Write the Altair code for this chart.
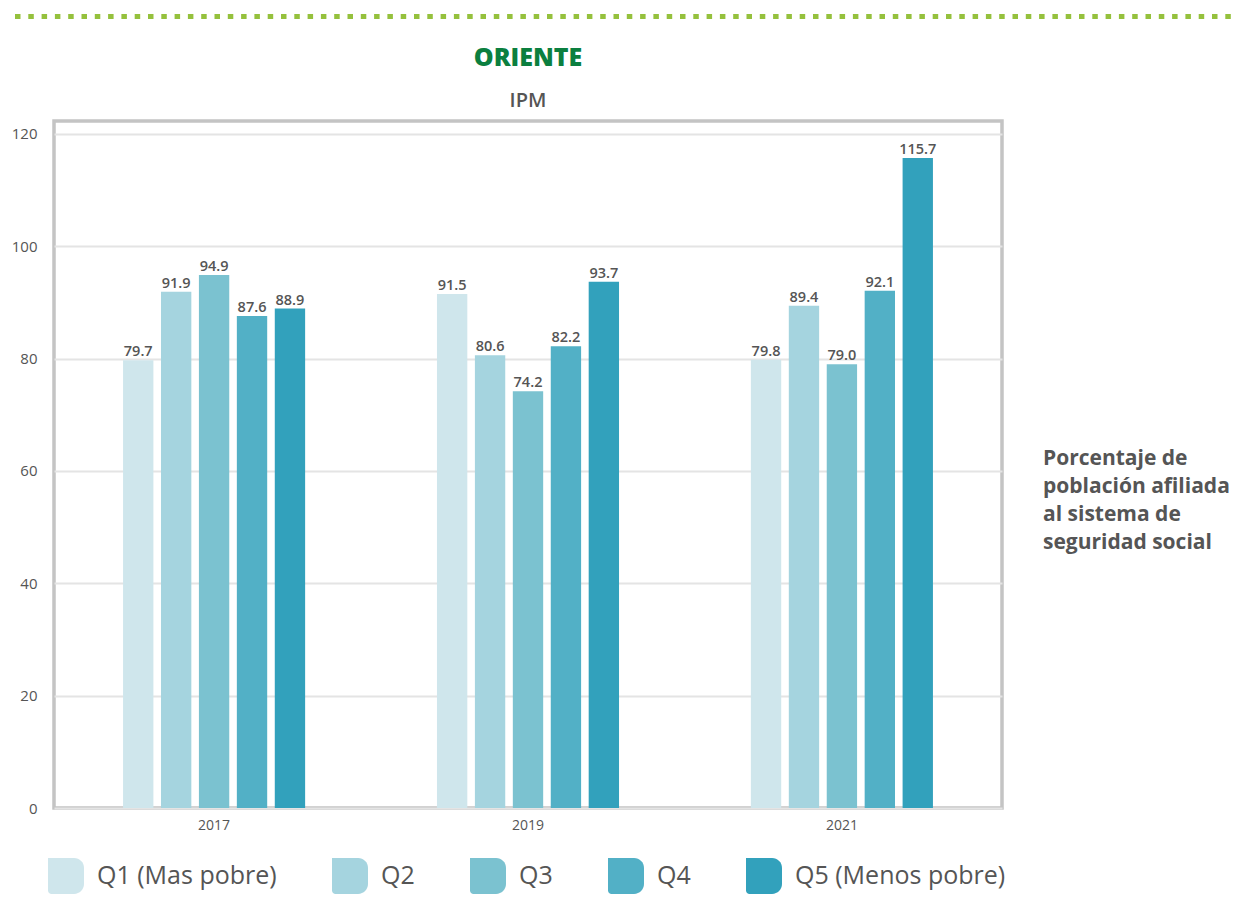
import altair as alt
import pandas as pd

years = ["2017", "2019", "2021"]
quintiles = ["Q1 (Mas pobre)", "Q2", "Q3", "Q4", "Q5 (Menos pobre)"]
q1 = [79.7, 91.5, 79.8]
q2 = [91.9, 80.6, 89.4]
q3 = [94.9, 74.2, 79.0]
q4 = [87.6, 82.2, 92.1]
q5 = [88.9, 93.7, 115.7]
colors = ["#cfe6ec", "#a5d4df", "#7bc2d0", "#52b0c6", "#32a1bc"]
y_ticks = [0, 20, 40, 60, 80, 100, 120]
side_note = ["Porcentaje de", "población afiliada", "al sistema de", "seguridad social"]
title_text = "ORIENTE"
subtitle_text = "IPM"

rows = []
for q, vals in zip(quintiles, [q1, q2, q3, q4, q5]):
    for yr, v in zip(years, vals):
        rows.append({"year": yr, "quintil": q, "value": v})
df = pd.DataFrame(rows)

FONT = "Open Sans"
GRAY = "#555555"
leaf = "M-1,-1 H0.45 A0.55,0.55 0 0 1 1,-0.45 V0.45 A0.55,0.55 0 0 1 0.45,1 H-0.8 A0.2,0.2 0 0 1 -1,0.8 Z"

x_enc = alt.X(
    "year:N", sort=years,
    scale=alt.Scale(paddingInner=0.42, paddingOuter=0.22),
    axis=alt.Axis(title=None, labelAngle=0, ticks=False, domain=False, labelPadding=10,
                  labelFontSize=14, labelColor=GRAY, labelFont=FONT),
)
xo_enc = alt.XOffset("quintil:N", sort=quintiles, scale=alt.Scale(paddingInner=0.2))
y_enc = alt.Y(
    "value:Q",
    scale=alt.Scale(domain=[0, 122.3], nice=False, zero=True),
    axis=alt.Axis(title=None, values=y_ticks, ticks=False, domain=False, labelPadding=17,
                  labelFontSize=15, labelColor=GRAY, labelFont=FONT,
                  gridColor="#e4e4e4", gridWidth=2),
)

bars = alt.Chart(df).mark_bar().encode(
    x=x_enc, xOffset=xo_enc, y=y_enc,
    color=alt.Color(
        "quintil:N", sort=quintiles,
        scale=alt.Scale(domain=quintiles, range=colors),
        legend=alt.Legend(
            title=None, orient="none", legendX=-6, legendY=737, direction="horizontal",
            columns=5, symbolType=leaf, symbolSize=1296, symbolStrokeWidth=0,
            symbolOpacity=1, labelFontSize=25, labelColor=GRAY, labelFont=FONT,
            labelOffset=13, columnPadding=55, labelLimit=400,
        ),
    ),
)

labels = alt.Chart(df).mark_text(
    dy=-4, baseline="alphabetic", fontSize=14.5, fontWeight=600, color=GRAY, font=FONT
).encode(x=x_enc, xOffset=xo_enc, y=y_enc, text=alt.Text("value:Q", format=".1f"))

note = alt.Chart(pd.DataFrame({"t": ["\n".join(side_note)]})).mark_text(
    align="left", baseline="top", fontSize=21, fontWeight="bold", color=GRAY,
    font=FONT, lineBreak="\n", lineHeight=28,
).encode(x=alt.value(989), y=alt.value(327), text="t:N")

title_mark = alt.Chart(pd.DataFrame({"t": [title_text]})).mark_text(
    align="center", baseline="middle", fontSize=25, fontWeight=800, color="#0b7f3f", font=FONT
).encode(x=alt.value(474), y=alt.value(-63), text="t:N")

subtitle_mark = alt.Chart(pd.DataFrame({"t": [subtitle_text]})).mark_text(
    align="center", baseline="middle", fontSize=20, fontWeight=600, color=GRAY, font=FONT
).encode(x=alt.value(474), y=alt.value(-20), text="t:N")

dash = alt.Chart(pd.DataFrame({"a": [0]})).mark_rule(
    color="#95c13d", strokeWidth=5, strokeDash=[5.5, 7.8]
).encode(x=alt.value(-39), x2=alt.value(1184), y=alt.value(-104.5))

chart = alt.layer(bars, labels, note, title_mark, subtitle_mark, dash).properties(
    width=948, height=687,
    view=alt.ViewBackground(stroke="#c4c4c4", strokeWidth=3.5, fill="white"),
    autosize=alt.AutoSizeParams(type="none"),
    padding={"left": 46, "top": 113, "right": 236, "bottom": 88},
).configure(background="white")

chart.save("out.html", embed_options={"renderer": "svg", "actions": False})
